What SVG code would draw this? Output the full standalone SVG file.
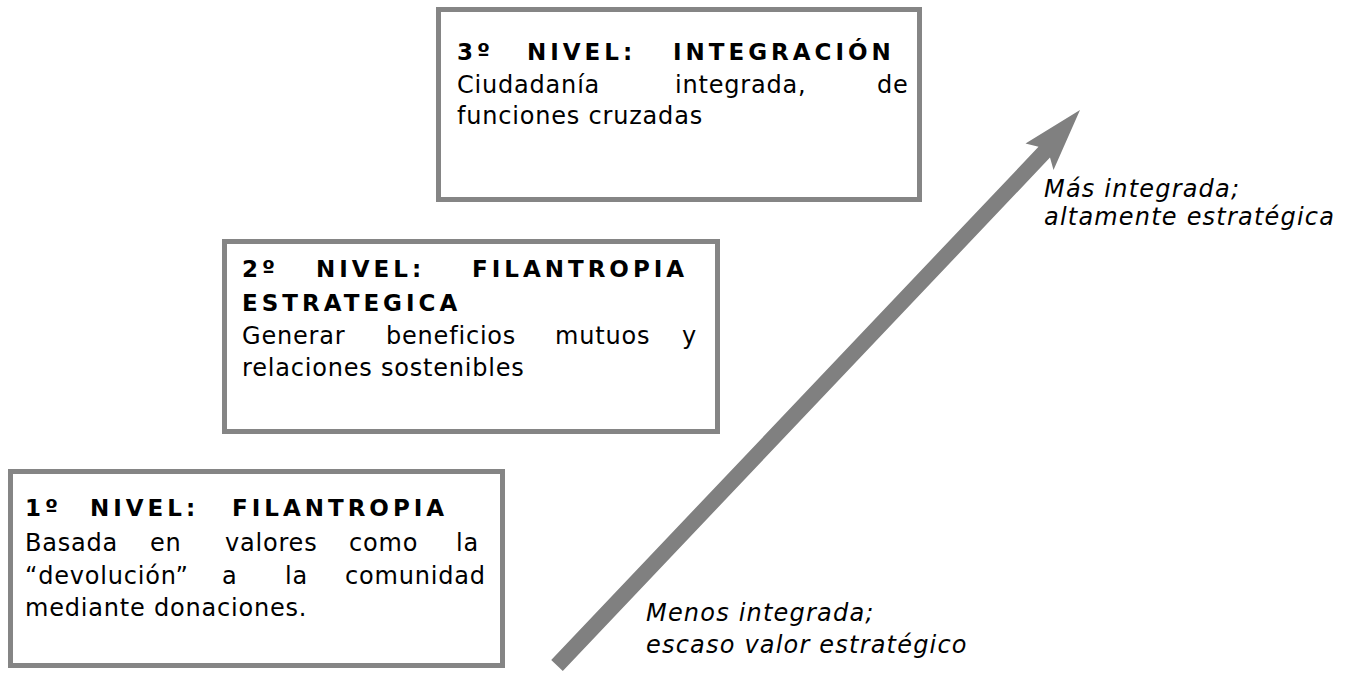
<svg xmlns="http://www.w3.org/2000/svg" width="1362" height="675" viewBox="0 0 1362 675">
<style>
.box{fill:#ffffff;stroke:#858585;stroke-width:5}
.t{font-family:"DejaVu Sans","Liberation Sans",sans-serif;font-size:23px;font-weight:bold;letter-spacing:4px;fill:#000}
.b{font-family:"DejaVu Sans","Liberation Sans",sans-serif;font-size:24px;letter-spacing:0.8px;fill:#000}
.i{font-family:"DejaVu Sans","Liberation Sans",sans-serif;font-size:24px;font-style:italic;letter-spacing:1.2px;fill:#000}
.arrow{fill:#808080}
</style>
<rect width="1362" height="675" fill="#ffffff"/>
<g id="connectors">
<polygon class="arrow" points="551.2,660 1038.5,146.8 1025.5,143.5 1080,110 1053.5,170 1050,157.6 562.8,671"/>
</g>
<g id="nivel3">
<rect class="box" x="438.5" y="9.5" width="481" height="190"/>
<text class="t" y="60"><tspan x="457">3º</tspan><tspan x="527">NIVEL:</tspan><tspan x="673">INTEGRACIÓN</tspan></text>
<text class="b" y="93"><tspan x="457">Ciudadanía</tspan><tspan x="675">integrada,</tspan><tspan x="877">de</tspan></text>
<text class="b" x="457" y="124">funciones cruzadas</text>
</g>
<g id="nivel2">
<rect class="box" x="224.5" y="241.5" width="493" height="190"/>
<text class="t" y="277"><tspan x="242">2º</tspan><tspan x="316">NIVEL:</tspan><tspan x="472">FILANTROPIA</tspan></text>
<text class="t" x="242" y="311">ESTRATEGICA</text>
<text class="b" y="344"><tspan x="242">Generar</tspan><tspan x="386">beneficios</tspan><tspan x="555">mutuos</tspan><tspan x="682">y</tspan></text>
<text class="b" x="242" y="376">relaciones sostenibles</text>
</g>
<g id="nivel1">
<rect class="box" x="10.5" y="471.5" width="492" height="194"/>
<text class="t" y="516"><tspan x="25">1º</tspan><tspan x="90">NIVEL:</tspan><tspan x="232">FILANTROPIA</tspan></text>
<text class="b" y="551"><tspan x="25">Basada</tspan><tspan x="150">en</tspan><tspan x="225">valores</tspan><tspan x="349">como</tspan><tspan x="456">la</tspan></text>
<text class="b" y="584"><tspan x="25">“devolución”</tspan><tspan x="222">a</tspan><tspan x="285">la</tspan><tspan x="345">comunidad</tspan></text>
<text class="b" x="25" y="616">mediante donaciones.</text>
</g>
<g id="label-alto">
<text class="i" x="1044" y="197">Más integrada;</text>
<text class="i" x="1044" y="225">altamente estratégica</text>
</g>
<g id="label-bajo">
<text class="i" x="646" y="621">Menos integrada;</text>
<text class="i" x="646" y="653">escaso valor estratégico</text>
</g>
</svg>
